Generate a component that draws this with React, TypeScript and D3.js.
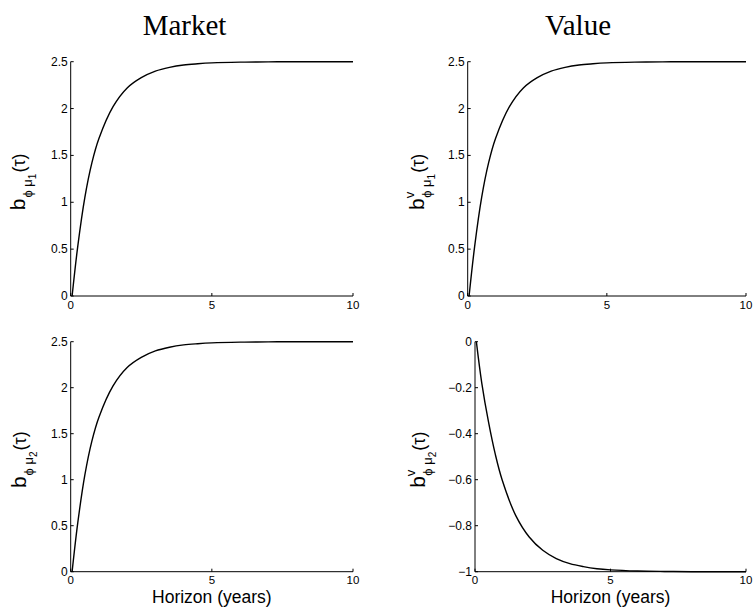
import React from "react";
import * as d3 from "d3";

// Horizon grid (years)
const tau = [0.05, 0.25, 0.5, 0.75, 1, 1.5, 2, 2.5, 3, 3.5, 4, 4.5, 5, 6, 7, 8, 10];

// Series
const marketMu1 = [0, 0.53, 1.05, 1.42, 1.68, 2.02, 2.22, 2.33, 2.4, 2.44, 2.465, 2.478, 2.487, 2.495, 2.498, 2.5, 2.5];
const valueMu1 = [0, 0.53, 1.05, 1.42, 1.68, 2.02, 2.22, 2.33, 2.4, 2.44, 2.465, 2.478, 2.487, 2.495, 2.498, 2.5, 2.5];
const marketMu2 = [0, 0.53, 1.05, 1.42, 1.68, 2.02, 2.22, 2.33, 2.4, 2.44, 2.465, 2.478, 2.487, 2.495, 2.498, 2.5, 2.5];
const valueMu2 = [0, -0.18, -0.35, -0.49, -0.6, -0.755, -0.849, -0.907, -0.943, -0.965, -0.978, -0.987, -0.992, -0.997, -0.999, -1, -1];

const xTicks = [0, 5, 10];
const yTicksPos = [0, 0.5, 1, 1.5, 2, 2.5];
const yTicksNeg = [0, -0.2, -0.4, -0.6, -0.8, -1];

const titles = ["Market", "Value"];
const xLabel = "Horizon (years)";

type Panel = {
  values: number[];
  yDomain: [number, number];
  yTicks: number[];
  x0: number; x1: number; y0: number; y1: number;
  sup: boolean; sub: string;
  labelX: number;
  showXLabel: boolean;
};

const panels: Panel[] = [
  { values: marketMu1, yDomain: [0, 2.5], yTicks: yTicksPos, x0: 70.7, x1: 353, y0: 61.7, y1: 296, sup: false, sub: "1", labelX: 25, showXLabel: false },
  { values: valueMu1, yDomain: [0, 2.5], yTicks: yTicksPos, x0: 467.7, x1: 746, y0: 61.7, y1: 296, sup: true, sub: "1", labelX: 424, showXLabel: false },
  { values: marketMu2, yDomain: [0, 2.5], yTicks: yTicksPos, x0: 70.7, x1: 353, y0: 341.7, y1: 571.7, sup: false, sub: "2", labelX: 26, showXLabel: true },
  { values: valueMu2, yDomain: [-1, 0], yTicks: yTicksNeg, x0: 475, x1: 746, y0: 341.7, y1: 571.7, sup: true, sub: "2", labelX: 425, showXLabel: true },
];

const fmt = (v: number) => {
  const s = String(v);
  return s.startsWith("-") ? "\u2212" + s.slice(1) : s;
};

const tickFont = "Liberation Sans, Arial, Helvetica, sans-serif";

function PanelView({ p }: { p: Panel }) {
  const x = d3.scaleLinear().domain([0, 10]).range([p.x0, p.x1]);
  const y = d3.scaleLinear().domain(p.yDomain).range([p.y1, p.y0]);
  const line = d3
    .line<number>()
    .x((_, i) => x(tau[i]))
    .y((d) => y(d))
    .curve(d3.curveCatmullRom.alpha(0.5));
  const midY = (p.y0 + p.y1) / 2 + 3;
  const tl = 3;
  return (
    <g>
      <path d={line(p.values) || ""} fill="none" stroke="#000" strokeWidth={1.4} />
      <line x1={p.x0} x2={p.x0} y1={p.y0} y2={p.y1} stroke="#000" strokeWidth={1} />
      <line x1={p.x0} x2={p.x1} y1={p.y1} y2={p.y1} stroke="#000" strokeWidth={1} />
      {p.yTicks.map((t) => (
        <g key={"y" + t}>
          <line x1={p.x0} x2={p.x0 + tl} y1={y(t)} y2={y(t)} stroke="#000" strokeWidth={1} />
          <text x={p.x0 - 3} y={y(t) + 4} textAnchor="end" fontSize={12} fontFamily={tickFont} fill="#000">
            {fmt(t)}
          </text>
        </g>
      ))}
      {xTicks.map((t) => (
        <g key={"x" + t}>
          <line x1={x(t)} x2={x(t)} y1={p.y1} y2={p.y1 - tl} stroke="#000" strokeWidth={1} />
          <text x={x(t)} y={p.y1 + 12.5} textAnchor="middle" fontSize={11.5} fontFamily={tickFont} fill="#000">
            {fmt(t)}
          </text>
        </g>
      ))}
      {p.showXLabel && (
        <text x={(p.x0 + p.x1) / 2} y={603} textAnchor="middle" fontSize={17.5} fontFamily={tickFont} fill="#000">
          {xLabel}
        </text>
      )}
      <text
        transform={`translate(${p.labelX},${midY}) rotate(-90)`}
        textAnchor="middle"
        fontFamily={tickFont}
        fill="#000"
      >
        <tspan fontSize={21}>b</tspan>
        {p.sup && (
          <tspan fontSize={13} dy={-10}>v</tspan>
        )}
        <tspan fontSize={13} dx={p.sup ? -6 : 1} dy={p.sup ? 17 : 7}>{"\u03d5 \u03bc"}</tspan>
        <tspan fontSize={10} dy={4}>{p.sub}</tspan>
        <tspan fontSize={18} dx={1} dy={-11}>({"\u03c4"})</tspan>
      </text>
    </g>
  );
}

export default function App() {
  return (
    <svg
      width={755}
      height={608}
      style={{ position: "absolute", left: 0, top: 0, background: "#fff" }}
    >
      <rect x={0} y={0} width={755} height={608} fill="#fff" />
      <text x={184.5} y={35} textAnchor="middle" fontSize={29} fontFamily="Liberation Serif, Times New Roman, serif" fill="#000">
        {titles[0]}
      </text>
      <text x={578} y={35} textAnchor="middle" fontSize={29} fontFamily="Liberation Serif, Times New Roman, serif" fill="#000">
        {titles[1]}
      </text>
      {panels.map((p, i) => (
        <PanelView key={i} p={p} />
      ))}
    </svg>
  );
}
